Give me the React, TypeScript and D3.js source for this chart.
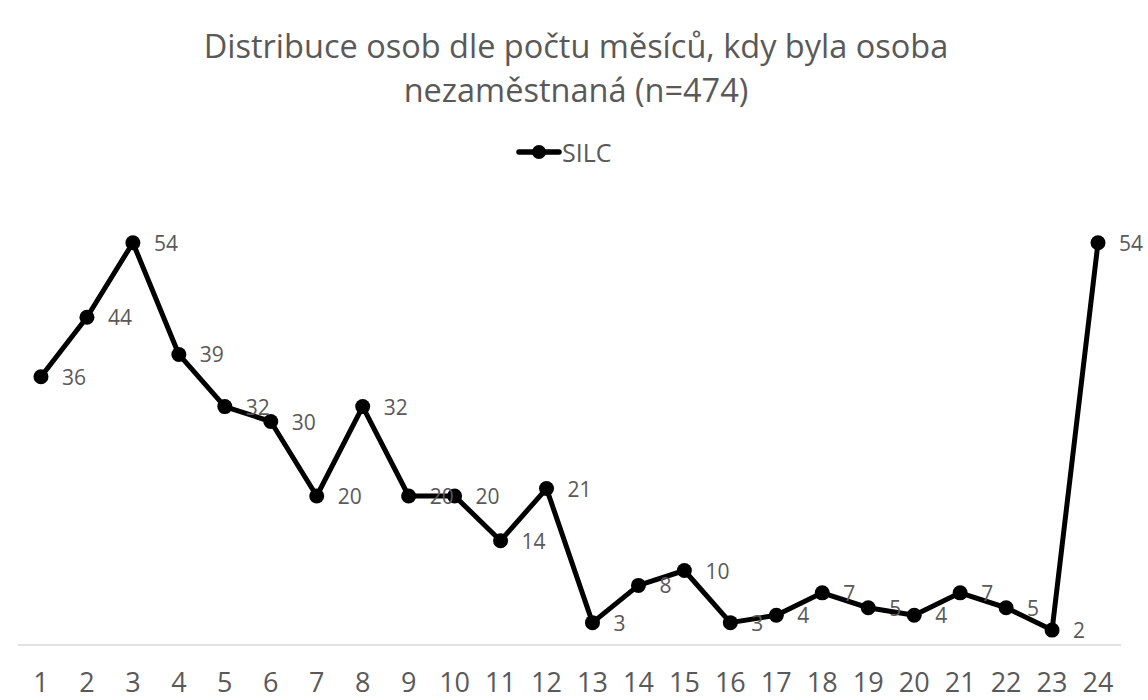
import React, { useEffect, useRef } from "react";
import * as d3 from "d3";

// Chart data
const months: string[] = [
  "1", "2", "3", "4", "5", "6", "7", "8", "9", "10", "11", "12",
  "13", "14", "15", "16", "17", "18", "19", "20", "21", "22", "23", "24",
];
const silc: number[] = [
  36, 44, 54, 39, 32, 30, 20, 32, 20, 20, 14, 21,
  3, 8, 10, 3, 4, 7, 5, 4, 7, 5, 2, 54,
];
const titleLines: string[] = [
  "Distribuce osob dle počtu měsíců, kdy byla osoba",
  "nezaměstnaná (n=474)",
];
const seriesName = "SILC";

const W = 1148;
const H = 700;
const FONT = "'Open Sans', sans-serif";
const GREY = "#595959";

const App = () => {
  const svgRef = useRef<SVGSVGElement | null>(null);

  useEffect(() => {
    if (!svgRef.current) return;
    const svg = d3.select(svgRef.current);
    svg.selectAll("*").remove();

    const plot = { left: 18, right: 1121, top: 198, bottom: 645 };

    const x = d3.scaleBand<string>()
      .domain(months)
      .range([plot.left, plot.right])
      .padding(0);
    const cx = (m: string) => (x(m) as number) + x.bandwidth() / 2;

    const y = d3.scaleLinear()
      .domain([0, 60])
      .range([plot.bottom, plot.top]);

    // ── Title ───────────────────────────────────────────
    svg.append("g")
      .selectAll("text")
      .data(titleLines)
      .join("text")
      .attr("x", W / 2 + 2)
      .attr("y", (_, i) => 58 + i * 44)
      .attr("text-anchor", "middle")
      .attr("font-family", FONT)
      .attr("font-size", "32.5px")
      .attr("fill", GREY)
      .text(d => d);

    // ── Legend ──────────────────────────────────────────
    const lg = svg.append("g").attr("transform", "translate(540, 152)");
    lg.append("line")
      .attr("x1", -21).attr("x2", 19)
      .attr("y1", 0).attr("y2", 0)
      .attr("stroke", "#000").attr("stroke-width", 5.5)
      .attr("stroke-linecap", "round");
    lg.append("circle").attr("cx", -1).attr("cy", 0).attr("r", 7).attr("fill", "#000");
    lg.append("text")
      .attr("x", 22).attr("y", 0)
      .attr("dominant-baseline", "central")
      .attr("font-family", FONT)
      .attr("font-size", "25px")
      .attr("fill", GREY)
      .text(seriesName);

    // ── Baseline ────────────────────────────────────────
    svg.append("line")
      .attr("x1", plot.left).attr("x2", plot.right)
      .attr("y1", y(0)).attr("y2", y(0))
      .attr("stroke", "#d9d9d9").attr("stroke-width", 1.5);

    // ── Category labels ─────────────────────────────────
    svg.append("g")
      .selectAll("text")
      .data(months)
      .join("text")
      .attr("x", d => cx(d))
      .attr("y", 692)
      .attr("text-anchor", "middle")
      .attr("font-family", FONT)
      .attr("font-size", "27px")
      .attr("fill", GREY)
      .text(d => d);

    // ── Line + markers ──────────────────────────────────
    const pts = months.map((m, i) => ({ m, v: silc[i] }));
    const line = d3.line<{ m: string; v: number }>()
      .x(d => cx(d.m))
      .y(d => y(d.v));

    svg.append("path")
      .datum(pts)
      .attr("d", line)
      .attr("fill", "none")
      .attr("stroke", "#000")
      .attr("stroke-width", 5)
      .attr("stroke-linejoin", "round");

    svg.append("g")
      .selectAll("circle")
      .data(pts)
      .join("circle")
      .attr("cx", d => cx(d.m))
      .attr("cy", d => y(d.v))
      .attr("r", 7.5)
      .attr("fill", "#000");

    // ── Data labels (right of point) ────────────────────
    svg.append("g")
      .selectAll("text")
      .data(pts)
      .join("text")
      .attr("x", d => cx(d.m) + 21)
      .attr("y", d => y(d.v))
      .attr("dominant-baseline", "central")
      .attr("font-family", FONT)
      .attr("font-size", "21px")
      .attr("fill", GREY)
      .text(d => d.v);
  }, []);

  return (
    <svg
      ref={svgRef}
      width={W}
      height={H}
      style={{ position: "absolute", left: 0, top: 0, background: "#fff" }}
    />
  );
};

export default App;
